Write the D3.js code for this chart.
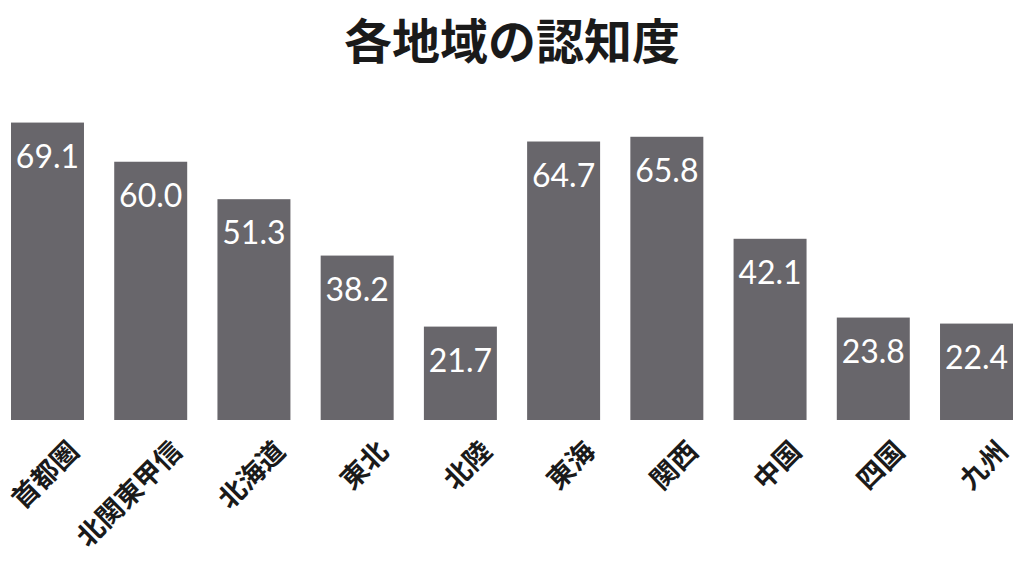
<!DOCTYPE html>
<html>
<head>
<meta charset="utf-8">
<script src="https://cdn.jsdelivr.net/npm/d3@7/dist/d3.min.js"></script>
<style>
  html, body { margin: 0; padding: 0; background: #fff; }
  svg { display: block; }
</style>
</head>
<body>
<svg id="chart" width="1024" height="576"></svg>
<script>
(function () {
  'use strict';

  // ── Data ────────────────────────────────────────────────────────────────
  const regions = ['首都圏', '北関東甲信', '北海道', '東北', '北陸', '東海', '関西', '中国', '四国', '九州'];
  const awareness = [69.1, 60.0, 51.3, 38.2, 21.7, 64.7, 65.8, 42.1, 23.8, 22.4];
  const title = '各地域の認知度';

  const W = 1024, H = 576;
  const BAR = '#68666b';
  const JP = '"Noto Sans CJK JP", "Noto Sans", sans-serif';

  const svg = d3.select('#chart').attr('viewBox', `0 0 ${W} ${H}`);

  const x = d3.scaleBand().domain(regions).range([11, 1013])
    .paddingInner(0.293).paddingOuter(0);
  const y = d3.scaleLinear().domain([0, 70]).range([420, 118.7]);

  const rows = regions.map((r, i) => ({ region: r, value: awareness[i] }));

  // ── Title ───────────────────────────────────────────────────────────────
  svg.append('text')
    .attr('x', W / 2).attr('y', 59)
    .attr('text-anchor', 'middle')
    .style('font-family', JP).style('font-weight', 700).style('font-size', '48px')
    .attr('fill', '#1a1a1a')
    .text(title);

  // ── Bars ────────────────────────────────────────────────────────────────
  svg.append('g').selectAll('rect').data(rows).join('rect')
    .attr('x', d => x(d.region))
    .attr('y', d => y(d.value))
    .attr('width', x.bandwidth())
    .attr('height', d => y(0) - y(d.value))
    .attr('fill', BAR);

  // value labels inside bars
  svg.append('g').selectAll('text').data(rows).join('text')
    .attr('x', d => x(d.region) + x.bandwidth() / 2)
    .attr('y', d => y(d.value) + 45)
    .attr('text-anchor', 'middle')
    .style('font-family', 'Lato, "Open Sans", sans-serif')
    .style('font-size', '32px')
    .attr('fill', '#fff')
    .text(d => d.value.toFixed(1));

  // ── Category axis (rotated labels) ──────────────────────────────────────
  const axis = svg.append('g')
    .attr('transform', 'translate(0,420)')
    .call(d3.axisBottom(x).tickSize(0).tickPadding(0));
  axis.select('.domain').remove();
  axis.selectAll('.tick text')
    .attr('text-anchor', 'end')
    .attr('dy', null).attr('y', null)
    .attr('transform', 'translate(33,33) rotate(-45)')
    .style('font-family', JP).style('font-weight', 700).style('font-size', '27px')
    .attr('fill', '#1a1a1a');
})();
</script>
</body>
</html>
